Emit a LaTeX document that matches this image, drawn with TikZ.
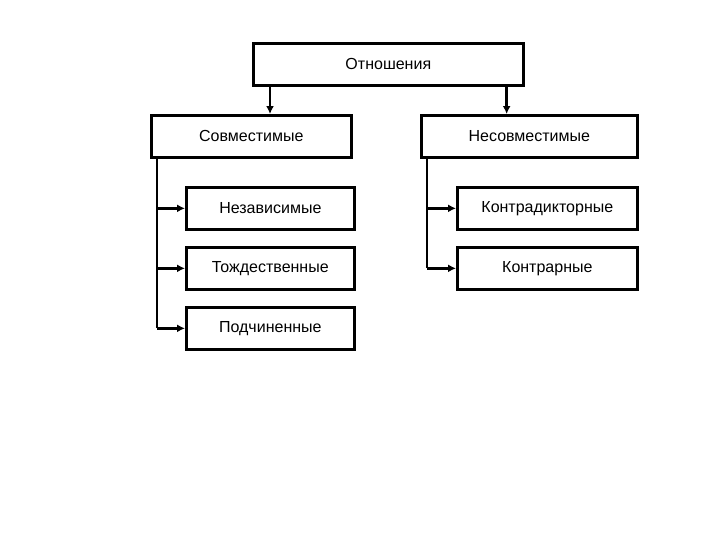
\documentclass[tikz,border=0pt]{standalone}
\usepackage{fontspec}
\setmainfont{Liberation Sans}
\begin{document}
\begin{tikzpicture}[x=0.75pt,y=-0.75pt,
 box/.style={draw,line width=2pt,minimum height=31.5pt,inner sep=0pt,anchor=north west,font=\fontsize{12}{14}\selectfont},
 con/.style={line width=2pt,-{Latex[length=6pt,width=6pt]}}]
\usetikzlibrary{arrows.meta}
\useasboundingbox (0,0) rectangle (720,540);
\node[box,minimum width=202.5pt] (top) at (252,42) {Отношения};
\node[box,minimum width=150pt] (sov) at (150,114) {Совместимые};
\node[box,minimum width=162pt] (nes) at (420,114) {Несовместимые};
\node[box,minimum width=126pt] (n1) at (185,186) {Независимые};
\node[box,minimum width=126pt] (n2) at (185,246) {Тождественные};
\node[box,minimum width=126pt] (n3) at (185,306) {Подчиненные};
\node[box,minimum width=135pt] (k1) at (456,186) {Контрадикторные};
\node[box,minimum width=135pt] (k2) at (456,246) {Контрарные};
\draw[con] (top.south west) ++(18,0) coordinate (a1) -- (a1 |- sov.north);
\draw[con] (top.south east) ++(-18,0) coordinate (a2) -- (a2 |- nes.north);
\coordinate (L) at (157,156);
\coordinate (R) at (427,156);
\draw[line width=2pt] (L) -- (L |- n3.west);
\foreach \n in {n1,n2,n3} \draw[con] (L |- \n.west) -- (\n.west);
\draw[line width=2pt] (R) -- (R |- k2.west);
\foreach \n in {k1,k2} \draw[con] (R |- \n.west) -- (\n.west);
\end{tikzpicture}
\end{document}
